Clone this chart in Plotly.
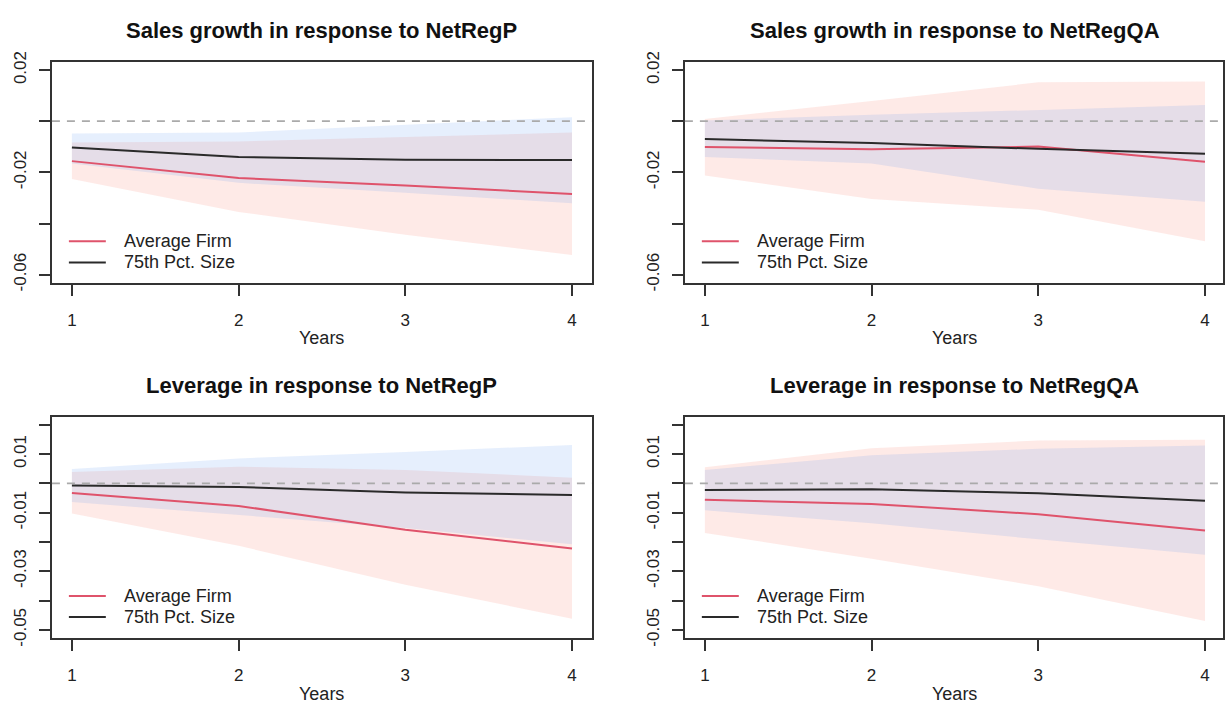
import plotly.graph_objects as go

W, H = 1225, 711

years = [1, 2, 3, 4]

titles = [
    "Sales growth in response to NetRegP",
    "Sales growth in response to NetRegQA",
    "Leverage in response to NetRegP",
    "Leverage in response to NetRegQA",
]
legend_labels = ["Average Firm", "75th Pct. Size"]

# Panel 1: Sales growth / NetRegP
p1_avg = [-0.0156, -0.0222, -0.0251, -0.0285]
p1_avg_lo = [-0.0226, -0.0355, -0.0444, -0.0523]
p1_avg_hi = [-0.0083, -0.0079, -0.0061, -0.0044]
p1_big = [-0.0103, -0.0140, -0.0151, -0.0152]
p1_big_lo = [-0.0165, -0.0241, -0.0280, -0.0321]
p1_big_hi = [-0.0048, -0.0044, -0.0013, 0.0016]

# Panel 2: Sales growth / NetRegQA
p2_avg = [-0.0101, -0.0110, -0.0099, -0.0158]
p2_avg_lo = [-0.0212, -0.0304, -0.0346, -0.0469]
p2_avg_hi = [0.0009, 0.0079, 0.0152, 0.0155]
p2_big = [-0.0070, -0.0085, -0.0108, -0.0127]
p2_big_lo = [-0.0140, -0.0165, -0.0264, -0.0315]
p2_big_hi = [0.0003, 0.0025, 0.0044, 0.0063]

# Panel 3: Leverage / NetRegP
p3_avg = [-0.0033, -0.0077, -0.0158, -0.0222]
p3_avg_lo = [-0.0103, -0.0213, -0.0346, -0.0462]
p3_avg_hi = [0.0039, 0.0057, 0.0046, 0.0019]
p3_big = [-0.0007, -0.0012, -0.0031, -0.0040]
p3_big_lo = [-0.0064, -0.0108, -0.0152, -0.0208]
p3_big_hi = [0.0049, 0.0085, 0.0107, 0.0131]

# Panel 4: Leverage / NetRegQA
p4_avg = [-0.0056, -0.0070, -0.0105, -0.0161]
p4_avg_lo = [-0.0169, -0.0257, -0.0351, -0.0470]
p4_avg_hi = [0.0055, 0.0120, 0.0146, 0.0149]
p4_big = [-0.0023, -0.0020, -0.0034, -0.0059]
p4_big_lo = [-0.0092, -0.0136, -0.0191, -0.0244]
p4_big_hi = [0.0046, 0.0096, 0.0118, 0.0129]

sales_ticks = [-0.06, -0.04, -0.02, 0.0, 0.02]
sales_ticktext = ["-0.06", "", "-0.02", "", "0.02"]
lev_ticks = [-0.05, -0.04, -0.03, -0.02, -0.01, 0.0, 0.01, 0.02]
lev_ticktext = ["-0.05", "", "-0.03", "", "-0.01", "", "0.01", ""]

panels = [
    (p1_avg, p1_avg_lo, p1_avg_hi, p1_big, p1_big_lo, p1_big_hi),
    (p2_avg, p2_avg_lo, p2_avg_hi, p2_big, p2_big_lo, p2_big_hi),
    (p3_avg, p3_avg_lo, p3_avg_hi, p3_big, p3_big_lo, p3_big_hi),
    (p4_avg, p4_avg_lo, p4_avg_hi, p4_big, p4_big_lo, p4_big_hi),
]

RED = "#DF536B"
BLACK = "#2a2a2a"
RED_FILL = "rgba(248,130,110,0.17)"
BLUE_FILL = "rgba(80,140,240,0.14)"
AXC = "#333333"
FONT = "Liberation Sans, Arial, Helvetica, sans-serif"

# pixel geometry of plot boxes (left, right, top, bottom)
boxes = [
    (52, 593, 52.3, 279.3),
    (686, 1225, 52.3, 279.3),
    (52, 593, 416.7, 644.3),
    (686, 1225, 416.7, 644.3),
]
xranges = [[0.88, 4.12], [0.88, 4.108], [0.88, 4.12], [0.88, 4.108]]
yranges = [[-0.0632, 0.0232], [-0.0632, 0.0232], [-0.0528, 0.0228], [-0.0528, 0.0228]]

fig = go.Figure()
layout = dict(
    width=W, height=H, margin=dict(l=0, r=0, t=0, b=0),
    paper_bgcolor="white", plot_bgcolor="white", showlegend=False,
    font=dict(family=FONT, size=17, color="#222222"),
)
shapes = []
annotations = []

for i, (avg, avg_lo, avg_hi, big, big_lo, big_hi) in enumerate(panels):
    n = i + 1
    xa = "x" if n == 1 else f"x{n}"
    ya = "y" if n == 1 else f"y{n}"
    l, r, t, b = boxes[i]
    wpx = r - l
    cx = (l + l + 541) / 2 / W

    fig.add_trace(go.Scatter(
        x=years + years[::-1], y=avg_lo + avg_hi[::-1], fill="toself",
        fillcolor=RED_FILL, line=dict(width=0), mode="lines",
        hoverinfo="skip", xaxis=xa, yaxis=ya))
    fig.add_trace(go.Scatter(
        x=years + years[::-1], y=big_lo + big_hi[::-1], fill="toself",
        fillcolor=BLUE_FILL, line=dict(width=0), mode="lines",
        hoverinfo="skip", xaxis=xa, yaxis=ya))
    fig.add_trace(go.Scatter(
        x=years, y=avg, mode="lines", line=dict(color=RED, width=2),
        name=legend_labels[0], xaxis=xa, yaxis=ya))
    fig.add_trace(go.Scatter(
        x=years, y=big, mode="lines", line=dict(color=BLACK, width=2),
        name=legend_labels[1], xaxis=xa, yaxis=ya))

    is_sales = i < 2
    layout["xaxis" if n == 1 else f"xaxis{n}"] = dict(
        domain=[l / W, r / W], range=xranges[i], anchor=ya,
        tickvals=years, ticktext=[str(v) for v in years],
        ticks="outside", ticklen=11, tickwidth=1.5, tickcolor=AXC,
        showline=True, mirror=True, linecolor=AXC, linewidth=1.5,
        showgrid=False, zeroline=False, ticklabelstandoff=10,
        tickfont=dict(size=17, family=FONT, color="#222222"),
    )
    layout["yaxis" if n == 1 else f"yaxis{n}"] = dict(
        domain=[1 - b / H, 1 - t / H], range=yranges[i], anchor=xa,
        tickvals=sales_ticks if is_sales else lev_ticks,
        ticktext=sales_ticktext if is_sales else lev_ticktext,
        tickangle=-90,
        ticks="outside", ticklen=11, tickwidth=1.5, tickcolor=AXC,
        showline=True, mirror=True, linecolor=AXC, linewidth=1.5,
        showgrid=False, zeroline=False, ticklabelstandoff=6,
        tickfont=dict(size=17, family=FONT, color="#222222"),
    )

    # zero reference line
    shapes.append(dict(type="line", xref=f"{xa} domain", yref=ya,
                       x0=0, x1=1, y0=0, y1=0,
                       line=dict(color="#AAAAAA", width=1.8, dash="8px,7px")))

    # title
    annotations.append(dict(text=f"<b>{titles[i]}</b>", xref="paper", yref="paper",
                            x=cx, y=1 - (t - 32) / H, showarrow=False,
                            xanchor="center", yanchor="middle",
                            font=dict(size=22, family=FONT, color="#111111")))
    # x-axis title
    annotations.append(dict(text="Years", xref="paper", yref="paper",
                            x=cx, y=1 - (b + 57) / H,
                            showarrow=False, xanchor="center", yanchor="middle",
                            font=dict(size=18, family=FONT, color="#222222")))

    # legend (inside, lower-left)
    for k, (lab, col) in enumerate(zip(legend_labels, [RED, BLACK])):
        ypx = 184.4 + 21.6 * k
        yd = 1 - ypx / (b - t)
        shapes.append(dict(type="line", xref=f"{xa} domain", yref=f"{ya} domain",
                           x0=17 / wpx, x1=54 / wpx, y0=yd, y1=yd,
                           line=dict(color=col, width=2)))
        annotations.append(dict(text=lab, xref=f"{xa} domain", yref=f"{ya} domain",
                                x=70 / wpx, y=yd, showarrow=False,
                                xanchor="left", yanchor="middle",
                                font=dict(size=18, family=FONT, color="#222222")))

layout["shapes"] = shapes
layout["annotations"] = annotations
fig.update_layout(**layout)
fig.write_html("out.html", config={"displayModeBar": False},
               post_script="document.body.style.margin='0';document.body.style.overflow='hidden';")
